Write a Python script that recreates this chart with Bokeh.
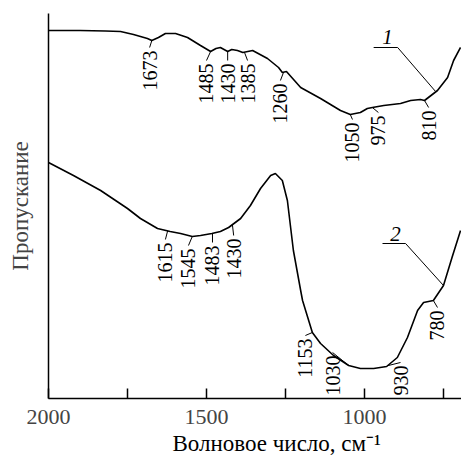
import numpy as np
from bokeh.plotting import figure
from bokeh.models import Range1d, FixedTicker, Title
from bokeh.core.properties import value
from bokeh.embed import file_html
from bokeh.resources import INLINE

# Spectrum 1 (wavenumber, transmittance in arbitrary units)
wn1 = [2000, 1900, 1820, 1772, 1731, 1687, 1673, 1652, 1630, 1598, 1560, 1519, 1487, 1470,
       1456, 1433, 1420, 1402, 1385, 1354, 1307, 1272, 1260, 1247, 1202, 1139, 1076, 1045,
       1013, 991, 975, 939, 886, 854, 823, 810, 769, 737, 718, 696]
tr1 = [368, 368, 367.5, 367, 364, 360, 358, 361, 365, 365, 361, 353, 347, 350,
       351, 347, 349, 348, 346, 348, 340, 331, 326, 327, 311, 300, 288, 284,
       286, 290, 291, 293, 295, 298, 299, 298, 308, 321, 338, 351]

# Spectrum 2
wn2 = [2000, 1921, 1835, 1750, 1709, 1655, 1615, 1582, 1545, 1519, 1483, 1456, 1430, 1392,
       1361, 1329, 1297, 1282, 1260, 1244, 1225, 1202, 1196, 1165, 1139, 1098, 1050, 1013,
       971, 930, 896, 864, 832, 813, 782, 750, 723, 696]
tr2 = [236, 223, 208, 190, 180, 170, 167, 165, 162, 163, 165, 167, 171, 180,
       193, 210, 223, 225, 218, 198, 148, 108, 98, 66, 55, 43, 33, 30,
       30, 32, 41, 61, 88, 96, 98, 113, 141, 168]

# Peak annotations: label text, wavenumber where the tick starts
peaks1 = ["1673", "1485", "1430", "1385", "1260", "1050", "975", "810"]
peak1_wn = [1673, 1487, 1433, 1380, 1256, 1045, 975, 810]
peaks2 = ["1615", "1545", "1483", "1430", "1153", "1030", "930", "780"]
peak2_wn = [1623, 1545, 1481, 1418, 1165, 1050, 927, 782]

# Label layout (text anchor: wavenumber, top of text)
lab1_x = [1680, 1500, 1433, 1370, 1266, 1038, 956, 797]
lab1_top = [348, 335, 335, 335, 315, 276, 283, 288]
lab2_x = [1630, 1557, 1481, 1414, 1187, 1101, 886, 769]
lab2_top = [156, 150, 153, 160, 60, 43, 33, 88]

x_ticks = [2000, 1750, 1500, 1250, 1000, 750]
x_tick_labels = {2000: "2000", 1750: "", 1500: "1500", 1250: "", 1000: "1000", 750: ""}
x_title = "Волновое число, см⁻¹"
y_title = "Пропускание"

FONT = "Liberation Serif"

p = figure(width=461, height=462, output_backend="svg", toolbar_location=None,
           x_range=Range1d(2000, 693), y_range=Range1d(0, 385),
           min_border_left=48, min_border_right=0, min_border_top=13, min_border_bottom=64)
p.outline_line_color = None
p.xgrid.visible = False
p.ygrid.visible = False
p.background_fill_color = "white"

p.line(wn1, tr1, line_color="black", line_width=1.6)
p.line(wn2, tr2, line_color="black", line_width=1.6)

def annotate(labels, tick_wn, lx, ltop, wn, tr):
    ys = np.interp(np.array(tick_wn)[::-1], np.array(wn)[::-1], np.array(tr)[::-1])[::-1]
    x0 = list(tick_wn)
    y0 = list(ys)
    x1 = list(lx)
    y1 = [t + 3 for t in ltop]
    p.segment(x0=x0, y0=y0, x1=x1, y1=y1, line_color="black", line_width=1)
    p.text(x=lx, y=ltop, text=labels, angle=np.pi / 2, text_align="right",
           text_baseline="middle", text_font=value(FONT), text_font_size="20px",
           text_color="black")

annotate(peaks1, peak1_wn, lab1_x, lab1_top, wn1, tr1)
annotate(peaks2, peak2_wn, lab2_x, lab2_top, wn2, tr2)

# curve numbers with leader lines
p.text(x=[927, 902], y=[362, 165], text=["1", "2"], text_align="center",
       text_baseline="middle", text_font=value(FONT), text_font_size="21px",
       text_font_style="italic", text_color="black")
p.line([971, 895, 775], [351, 351, 307], line_color="black", line_width=1)
p.line([943, 870, 750], [155, 155, 113], line_color="black", line_width=1)

xa = p.xaxis[0]
xa.ticker = FixedTicker(ticks=x_ticks, minor_ticks=[])
xa.major_label_overrides = x_tick_labels
xa.major_tick_in = 10
xa.major_tick_out = 0
xa.major_tick_line_width = 1.5
xa.axis_line_width = 1.5
xa.major_label_text_font = FONT
xa.major_label_text_font_size = "22px"
xa.major_label_standoff = 11

# x-axis title, below the tick labels, shifted right as in the original
p.add_layout(Title(text=x_title, align="left", offset=124, standoff=4,
                   text_font=FONT, text_font_size="23px", text_font_style="normal",
                   text_color="black"), "below")

ya = p.yaxis[0]
ya.ticker = FixedTicker(ticks=[])
ya.major_tick_in = 0
ya.major_tick_out = 0
ya.minor_tick_in = 0
ya.minor_tick_out = 0
ya.major_label_text_font_size = "0px"
ya.axis_line_width = 1.5
ya.axis_label = y_title
ya.axis_label_text_font = FONT
ya.axis_label_text_font_size = "23px"
ya.axis_label_text_font_style = "normal"
ya.axis_label_standoff = 16

open("out.html", "w").write(file_html(p, INLINE))
